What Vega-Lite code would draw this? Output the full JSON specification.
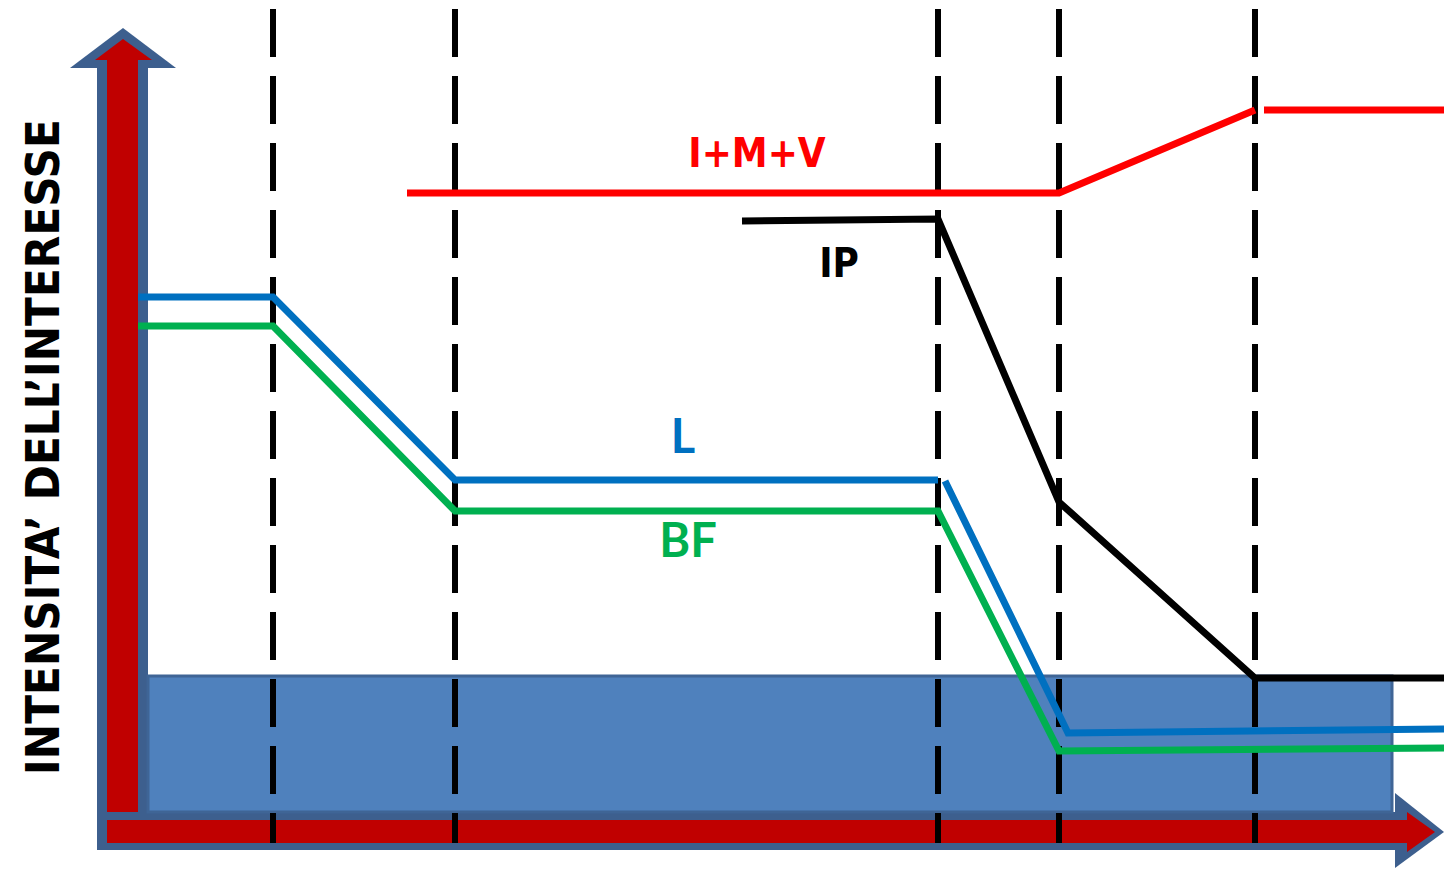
{
  "$schema": "https://vega.github.io/schema/vega-lite/v6.json",
  "width": 1444,
  "height": 869,
  "padding": 0,
  "autosize": {"type": "none"},
  "background": "white",
  "config": {"view": {"stroke": null}},
  "datasets": {
    "shapes": [
      {"part": "frame", "x": 97, "x2": 148, "y": 801, "y2": 19},
      {"part": "frame", "x": 97, "x2": 1395, "y": 57, "y2": 19},
      {"part": "zone", "x": 148, "x2": 1392, "y": 193, "y2": 57},
      {"part": "shaft", "x": 107, "x2": 138, "y": 809, "y2": 57},
      {"part": "shaft", "x": 107, "x2": 1407, "y": 49, "y2": 26}
    ],
    "headsUp": [
      {"part": "frame", "x": 70, "y": 801, "base": 801},
      {"part": "frame", "x": 123, "y": 841, "base": 801},
      {"part": "frame", "x": 176, "y": 801, "base": 801},
      {"part": "shaft", "x": 95, "y": 809, "base": 809},
      {"part": "shaft", "x": 123, "y": 830, "base": 809},
      {"part": "shaft", "x": 152, "y": 809, "base": 809}
    ],
    "headsRight": [
      {"part": "frame", "y": 76, "x": 1395, "base": 1395},
      {"part": "frame", "y": 37, "x": 1444, "base": 1395},
      {"part": "frame", "y": 1, "x": 1395, "base": 1395},
      {"part": "shaft", "y": 57, "x": 1407, "base": 1407},
      {"part": "shaft", "y": 37, "x": 1435, "base": 1407},
      {"part": "shaft", "y": 17, "x": 1407, "base": 1407}
    ],
    "phases": [
      {"x": 273, "y": 860, "y2": 26},
      {"x": 455, "y": 860, "y2": 26},
      {"x": 938, "y": 860, "y2": 26},
      {"x": 1059, "y": 860, "y2": 26},
      {"x": 1255, "y": 860, "y2": 26}
    ],
    "curves": [
      {"series": "IMV", "seg": "IMV1", "o": 1, "x": 407, "y": 676},
      {"series": "IMV", "seg": "IMV1", "o": 2, "x": 1059, "y": 676},
      {"series": "IMV", "seg": "IMV1", "o": 3, "x": 1255, "y": 759},
      {"series": "IMV", "seg": "IMV2", "o": 1, "x": 1264, "y": 759},
      {"series": "IMV", "seg": "IMV2", "o": 2, "x": 1444, "y": 759},
      {"series": "IP", "seg": "IP1", "o": 1, "x": 742, "y": 648},
      {"series": "IP", "seg": "IP1", "o": 2, "x": 938, "y": 650},
      {"series": "IP", "seg": "IP1", "o": 3, "x": 1059, "y": 367},
      {"series": "IP", "seg": "IP1", "o": 4, "x": 1255, "y": 191},
      {"series": "IP", "seg": "IP1", "o": 5, "x": 1444, "y": 191},
      {"series": "L", "seg": "L1", "o": 1, "x": 138, "y": 572},
      {"series": "L", "seg": "L1", "o": 2, "x": 273, "y": 572},
      {"series": "L", "seg": "L1", "o": 3, "x": 455, "y": 389},
      {"series": "L", "seg": "L1", "o": 4, "x": 938, "y": 389},
      {"series": "L", "seg": "L2", "o": 1, "x": 945, "y": 388},
      {"series": "L", "seg": "L2", "o": 2, "x": 1068, "y": 136},
      {"series": "L", "seg": "L2", "o": 3, "x": 1444, "y": 140},
      {"series": "BF", "seg": "BF1", "o": 1, "x": 138, "y": 543},
      {"series": "BF", "seg": "BF1", "o": 2, "x": 273, "y": 543},
      {"series": "BF", "seg": "BF1", "o": 3, "x": 455, "y": 358},
      {"series": "BF", "seg": "BF1", "o": 4, "x": 938, "y": 358},
      {"series": "BF", "seg": "BF1", "o": 5, "x": 1059, "y": 118},
      {"series": "BF", "seg": "BF1", "o": 6, "x": 1444, "y": 121}
    ],
    "labels": [
      {"series": "IMV", "label": "I+M+V", "x": 757, "y": 702, "style": "narrow"},
      {"series": "IP", "label": "IP", "x": 839, "y": 592, "style": "narrow"},
      {"series": "L", "label": "L", "x": 683, "y": 416, "style": "round"},
      {"series": "BF", "label": "BF", "x": 688, "y": 312, "style": "round"}
    ],
    "title": [
      {"label": "INTENSITA’ DELL’INTERESSE", "x": 45, "y": 422}
    ]
  },
  "layer": [
    {
      "data": {"name": "shapes"},
      "transform": [{"filter": "datum.part === 'frame'"}],
      "mark": {"type": "rect", "color": "#3d5f8e"},
      "encoding": {
        "x": {"field": "x", "type": "quantitative", "scale": {"domain": [0, 1444], "nice": false, "zero": false}, "axis": null},
        "x2": {"field": "x2"},
        "y": {"field": "y", "type": "quantitative", "scale": {"domain": [0, 869], "nice": false, "zero": false}, "axis": null},
        "y2": {"field": "y2"}
      }
    },
    {
      "data": {"name": "headsUp"},
      "transform": [{"filter": "datum.part === 'frame'"}],
      "mark": {"type": "area", "orient": "vertical", "color": "#3d5f8e"},
      "encoding": {
        "x": {"field": "x", "type": "quantitative", "axis": null},
        "y": {"field": "y", "type": "quantitative", "axis": null},
        "y2": {"field": "base"}
      }
    },
    {
      "data": {"name": "headsRight"},
      "transform": [{"filter": "datum.part === 'frame'"}],
      "mark": {"type": "area", "orient": "horizontal", "color": "#3d5f8e"},
      "encoding": {
        "y": {"field": "y", "type": "quantitative", "axis": null},
        "x": {"field": "x", "type": "quantitative", "axis": null},
        "x2": {"field": "base"}
      }
    },
    {
      "data": {"name": "shapes"},
      "transform": [{"filter": "datum.part === 'zone'"}],
      "mark": {"type": "rect", "color": "#4f81bd", "stroke": "#3f6596", "strokeWidth": 3},
      "encoding": {
        "x": {"field": "x", "type": "quantitative", "axis": null},
        "x2": {"field": "x2"},
        "y": {"field": "y", "type": "quantitative", "axis": null},
        "y2": {"field": "y2"}
      }
    },
    {
      "data": {"name": "shapes"},
      "transform": [{"filter": "datum.part === 'shaft'"}],
      "mark": {"type": "rect", "color": "#c00000"},
      "encoding": {
        "x": {"field": "x", "type": "quantitative", "axis": null},
        "x2": {"field": "x2"},
        "y": {"field": "y", "type": "quantitative", "axis": null},
        "y2": {"field": "y2"}
      }
    },
    {
      "data": {"name": "headsUp"},
      "transform": [{"filter": "datum.part === 'shaft'"}],
      "mark": {"type": "area", "orient": "vertical", "color": "#c00000"},
      "encoding": {
        "x": {"field": "x", "type": "quantitative", "axis": null},
        "y": {"field": "y", "type": "quantitative", "axis": null},
        "y2": {"field": "base"}
      }
    },
    {
      "data": {"name": "headsRight"},
      "transform": [{"filter": "datum.part === 'shaft'"}],
      "mark": {"type": "area", "orient": "horizontal", "color": "#c00000"},
      "encoding": {
        "y": {"field": "y", "type": "quantitative", "axis": null},
        "x": {"field": "x", "type": "quantitative", "axis": null},
        "x2": {"field": "base"}
      }
    },
    {
      "data": {"name": "phases"},
      "mark": {"type": "rule", "color": "black", "strokeWidth": 6, "strokeDash": [48, 19], "strokeCap": "butt"},
      "encoding": {
        "x": {"field": "x", "type": "quantitative", "axis": null},
        "y": {"field": "y", "type": "quantitative", "axis": null},
        "y2": {"field": "y2"}
      }
    },
    {
      "data": {"name": "curves"},
      "mark": {"type": "line", "strokeWidth": 7, "strokeCap": "butt", "strokeJoin": "miter"},
      "encoding": {
        "x": {"field": "x", "type": "quantitative", "axis": null},
        "y": {"field": "y", "type": "quantitative", "axis": null},
        "detail": {"field": "seg"},
        "order": {"field": "o"},
        "color": {"field": "series", "type": "nominal", "scale": {"domain": ["IMV", "IP", "L", "BF"], "range": ["#ff0000", "#000000", "#0070c0", "#00b050"]}, "legend": null}
      }
    },
    {
      "data": {"name": "labels"},
      "transform": [{"filter": "datum.style === 'narrow'"}],
      "mark": {"type": "text", "font": "DejaVu Sans Condensed, sans-serif", "fontWeight": "bold", "fontSize": 40, "align": "center", "baseline": "alphabetic"},
      "encoding": {
        "x": {"field": "x", "type": "quantitative", "axis": null},
        "y": {"field": "y", "type": "quantitative", "axis": null},
        "text": {"field": "label"},
        "color": {"field": "series", "type": "nominal", "legend": null}
      }
    },
    {
      "data": {"name": "labels"},
      "transform": [{"filter": "datum.style === 'round'"}],
      "mark": {"type": "text", "font": "Lato, Open Sans, sans-serif", "fontWeight": "bold", "fontSize": 47, "align": "center", "baseline": "alphabetic"},
      "encoding": {
        "x": {"field": "x", "type": "quantitative", "axis": null},
        "y": {"field": "y", "type": "quantitative", "axis": null},
        "text": {"field": "label"},
        "color": {"field": "series", "type": "nominal", "legend": null}
      }
    },
    {
      "data": {"name": "title"},
      "mark": {"type": "text", "font": "DejaVu Sans Condensed, sans-serif", "fontWeight": "bold", "fontSize": 47, "align": "center", "baseline": "middle", "angle": 270, "color": "black"},
      "encoding": {
        "x": {"field": "x", "type": "quantitative", "axis": null},
        "y": {"field": "y", "type": "quantitative", "axis": null},
        "text": {"field": "label"}
      }
    }
  ]
}
